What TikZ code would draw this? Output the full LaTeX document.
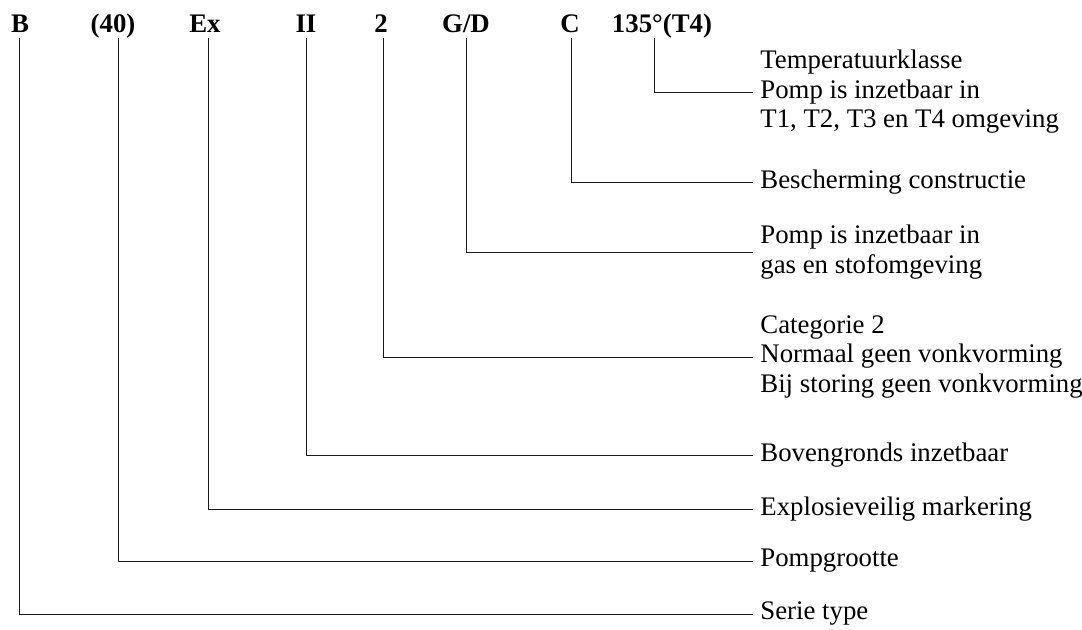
\documentclass[tikz,border=0pt]{standalone}
\usepackage{fontspec}
\setmainfont{Liberation Serif}

\begin{document}
\begin{tikzpicture}[x=0.5pt, y=-0.5pt,
		code/.style={font=\fontsize{13.4pt}{14.75pt}\selectfont\bfseries, inner sep=0pt, anchor=base},
		uitleg/.style={font=\fontsize{13.4pt}{14.75pt}\selectfont, align=left, anchor=west, inner xsep=3.5pt, inner ysep=0pt},
		lijn/.style={line width=0.5pt, color=black!90}]
			%%%%% START %%%%%
			
			\useasboundingbox (0, 0) rectangle (1082, 629);
			
			\node[code] (cB) at (20, 32) {B};
			\node[code] (cPomp) at (113, 32) {(40)};
			\node[code] (cEx) at (205, 32) {Ex};
			\node[code] (cGroep) at (306, 32) {II};
			\node[code] (cCat) at (381, 32) {2};
			\node[code] (cGD) at (466, 32) {G/D};
			\node[code] (cBesch) at (570, 32) {C};
			\node[code] (cTemp) at (662, 32) {135°(T4)};
			
			\coordinate (tB) at (19, 38);
			\coordinate (tPomp) at (118, 38);
			\coordinate (tEx) at (208, 38);
			\coordinate (tGroep) at (306, 38);
			\coordinate (tCat) at (383, 38);
			\coordinate (tGD) at (466, 38);
			\coordinate (tBesch) at (571, 38);
			\coordinate (tTemp) at (654, 38);
			
			\node[uitleg] (uTemp) at (753, 92) {Temperatuurklasse\\Pomp is inzetbaar in\\T1, T2, T3 en T4 omgeving};
			\node[uitleg] (uBesch) at (753, 182) {Bescherming constructie};
			\node[uitleg] (uGD) at (753, 252) {Pomp is inzetbaar in\\gas en stofomgeving};
			\node[uitleg] (uCat) at (753, 357) {Categorie 2\\Normaal geen vonkvorming\\Bij storing geen vonkvorming};
			\node[uitleg] (uGroep) at (753, 455) {Bovengronds inzetbaar};
			\node[uitleg] (uEx) at (753, 509) {Explosieveilig markering};
			\node[uitleg] (uPomp) at (753, 561) {Pompgrootte};
			\node[uitleg] (uB) at (753, 614) {Serie type};
			
			\draw[lijn] (tTemp) |- (uTemp.west);
			\draw[lijn] (tBesch) |- (uBesch.west);
			\draw[lijn] (tGD) |- (uGD.west);
			\draw[lijn] (tCat) |- (uCat.west);
			\draw[lijn] (tGroep) |- (uGroep.west);
			\draw[lijn] (tEx) |- (uEx.west);
			\draw[lijn] (tPomp) |- (uPomp.west);
			\draw[lijn] (tB) |- (uB.west);
			
			%%%%% END %%%%%
		\end{tikzpicture}
\end{document}
